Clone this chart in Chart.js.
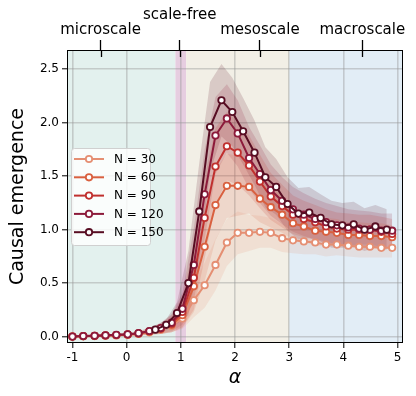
<!DOCTYPE html>
<html>
<head>
<meta charset="utf-8">
<script src="https://cdn.jsdelivr.net/npm/chart.js@4.4.1/dist/chart.umd.min.js"></script>
<style>
  html, body { margin: 0; padding: 0; background: #fff; }
  #wrap { width: 416px; height: 396px; }
</style>
</head>
<body>
<div id="wrap"><canvas id="chart" width="416" height="396"></canvas></div>
<script>
/* ===== DATA ===== */

// alpha grid (N = 30 ... 120)
const alphaGrid = [-1.00, -0.80, -0.59, -0.39, -0.19, 0.02, 0.22, 0.42, 0.63, 0.83,
  1.03, 1.24, 1.44, 1.64, 1.85, 2.05, 2.26, 2.46, 2.66, 2.87,
  3.07, 3.27, 3.48, 3.68, 3.88, 4.09, 4.29, 4.49, 4.70, 4.90];
// N = 150 was sampled half a step off
const alpha150 = [0.53, 0.73, 0.93, 1.14, 1.34, 1.54, 1.75, 1.95, 2.15, 2.36, 2.56,
  2.76, 2.97, 3.17, 3.37, 3.58, 3.78, 3.98, 4.19, 4.39, 4.59, 4.80];

const ce30 = [0.00, 0.003, 0.005, 0.008, 0.011, 0.016, 0.025, 0.04, 0.065, 0.10,
  0.17, 0.34, 0.48, 0.67, 0.88, 0.97, 0.97, 0.98, 0.97, 0.92,
  0.90, 0.89, 0.88, 0.86, 0.86, 0.85, 0.84, 0.84, 0.83, 0.83];
const ce60 = [0.00, 0.004, 0.006, 0.010, 0.013, 0.018, 0.028, 0.045, 0.07, 0.11,
  0.20, 0.47, 0.84, 1.23, 1.41, 1.41, 1.40, 1.29, 1.21, 1.14,
  1.06, 1.03, 0.99, 0.98, 0.97, 0.95, 0.95, 0.94, 0.94, 0.93];
const ce90 = [0.00, 0.005, 0.007, 0.011, 0.015, 0.020, 0.030, 0.050, 0.075, 0.12,
  0.23, 0.55, 1.11, 1.59, 1.78, 1.72, 1.60, 1.45, 1.31, 1.22,
  1.14, 1.10, 1.07, 1.03, 1.01, 1.00, 1.00, 1.00, 0.98, 0.96];
const ce120 = [0.00, 0.005, 0.008, 0.012, 0.016, 0.021, 0.032, 0.052, 0.08, 0.13,
  0.26, 0.67, 1.33, 1.88, 2.04, 1.90, 1.67, 1.52, 1.37, 1.27,
  1.19, 1.14, 1.10, 1.07, 1.04, 1.02, 1.01, 1.00, 0.99, 0.99];
const ce150 = [0.065, 0.11, 0.22, 0.50, 1.17, 1.96, 2.21, 2.10, 1.92, 1.72, 1.49,
  1.40, 1.24, 1.15, 1.16, 1.11, 1.05, 1.04, 1.05, 1.00, 1.03, 1.00];

// spread (std) round each curve
const sd30 = [0.00, 0.002, 0.003, 0.005, 0.007, 0.010, 0.015, 0.025, 0.04, 0.06,
  0.10, 0.16, 0.21, 0.24, 0.22, 0.20, 0.17, 0.15, 0.14, 0.13,
  0.12, 0.12, 0.11, 0.11, 0.10, 0.10, 0.10, 0.10, 0.09, 0.09];
const sd60 = [0.00, 0.002, 0.003, 0.005, 0.007, 0.010, 0.016, 0.027, 0.045, 0.07,
  0.12, 0.24, 0.32, 0.33, 0.30, 0.28, 0.25, 0.22, 0.19, 0.17,
  0.15, 0.14, 0.14, 0.13, 0.13, 0.12, 0.12, 0.12, 0.12, 0.11];
const sd90 = [0.00, 0.002, 0.003, 0.005, 0.007, 0.010, 0.017, 0.030, 0.05, 0.08,
  0.14, 0.30, 0.38, 0.36, 0.32, 0.30, 0.28, 0.25, 0.22, 0.20,
  0.18, 0.17, 0.16, 0.16, 0.15, 0.15, 0.14, 0.14, 0.14, 0.14];
const sd120 = [0.00, 0.002, 0.003, 0.005, 0.007, 0.010, 0.018, 0.030, 0.05, 0.08,
  0.15, 0.34, 0.42, 0.36, 0.32, 0.31, 0.29, 0.27, 0.24, 0.22,
  0.21, 0.20, 0.19, 0.18, 0.18, 0.17, 0.17, 0.17, 0.16, 0.16];
const sd150 = [0.03, 0.05, 0.10, 0.30, 0.45, 0.42, 0.34, 0.32, 0.31, 0.30, 0.28,
  0.26, 0.25, 0.24, 0.24, 0.22, 0.22, 0.21, 0.21, 0.20, 0.20, 0.19];

const seriesLabels = ["N = 30", "N = 60", "N = 90", "N = 120", "N = 150"];

// regimes along alpha
const regionEdges = [-1.1, 0.9, 1.1, 3.0, 5.1];
const regionTickPos = [-0.48, 0.98, 2.46, 4.35];
const regionNames = ["microscale", "scale-free", "mesoscale", "macroscale"];

const xTicks = [-1, 0, 1, 2, 3, 4, 5];
const yTicks = [0, 0.5, 1.0, 1.5, 2.0, 2.5];

/* ===== STYLE ===== */

const seriesColors = ["#e58f73", "#d9603f", "#c0302e", "#8c1a3a", "#570d22"];
const regionColors = ["#e3f1ee", "#e6cde0", "#f2efe6", "#e2edf6"];
const gridColor = "rgba(150,150,150,0.42)";
const FONT = "'DejaVu Sans', sans-serif";

function hexToRgba(hex, a) {
  const n = parseInt(hex.slice(1), 16);
  return `rgba(${(n >> 16) & 255},${(n >> 8) & 255},${n & 255},${a})`;
}

/* ===== DATASETS ===== */

const series = [
  { x: alphaGrid, y: ce30, sd: sd30 },
  { x: alphaGrid, y: ce60, sd: sd60 },
  { x: alphaGrid, y: ce90, sd: sd90 },
  { x: alphaGrid, y: ce120, sd: sd120 },
  { x: alpha150, y: ce150, sd: sd150 }
];

const datasets = [];

// bands first (lower, then upper filled to lower)
series.forEach((s, i) => {
  const col = seriesColors[i];
  datasets.push({
    label: "_band_lo",
    data: s.x.map((a, k) => ({ x: a, y: s.y[k] - s.sd[k] })),
    borderWidth: 0, pointRadius: 0, fill: false, order: 20
  });
  datasets.push({
    label: "_band_hi",
    data: s.x.map((a, k) => ({ x: a, y: s.y[k] + s.sd[k] })),
    borderWidth: 0, pointRadius: 0,
    fill: "-1", backgroundColor: hexToRgba(col, 0.16), order: 20
  });
});

series.forEach((s, i) => {
  const col = seriesColors[i];
  datasets.push({
    label: seriesLabels[i],
    data: s.x.map((a, k) => ({ x: a, y: s.y[k] })),
    borderColor: col,
    borderWidth: 2,
    pointRadius: 3.2,
    pointBorderWidth: 1.8,
    pointBackgroundColor: "#fff",
    pointBorderColor: col,
    fill: false,
    tension: 0,
    order: 5 - i
  });
});

/* ===== PLUGINS ===== */

const regionsPlugin = {
  id: "regions",
  beforeDraw(chart) {
    const { ctx, chartArea: a, scales } = chart;
    ctx.save();
    ctx.beginPath();
    ctx.rect(a.left, a.top, a.right - a.left, a.bottom - a.top);
    ctx.clip();
    for (let i = 0; i < regionColors.length; i++) {
      const x0 = scales.x.getPixelForValue(regionEdges[i]);
      const x1 = scales.x.getPixelForValue(regionEdges[i + 1]);
      ctx.fillStyle = regionColors[i];
      ctx.fillRect(x0, a.top, x1 - x0, a.bottom - a.top);
    }
    ctx.restore();
  }
};

const frameLegendPlugin = {
  id: "frameLegend",
  afterDraw(chart) {
    const { ctx, chartArea: a, scales } = chart;
    ctx.save();

    // frame
    ctx.strokeStyle = "#000";
    ctx.lineWidth = 1;
    ctx.strokeRect(a.left + 0.5, a.top + 0.5, a.right - a.left - 1, a.bottom - a.top - 1);

    // top ticks poke into the axes a little
    ctx.lineWidth = 1.3;
    regionTickPos.forEach(v => {
      const px = Math.round(scales.xTop.getPixelForValue(v)) + 0.5;
      ctx.beginPath();
      ctx.moveTo(px, a.top);
      ctx.lineTo(px, a.top + 7);
      ctx.stroke();
    });

    // legend box
    const bx = a.left + 4, by = a.top + 98, bw = 79, bh = 97;
    ctx.fillStyle = "rgba(255,255,255,0.82)";
    ctx.strokeStyle = "#d0d0d0";
    ctx.lineWidth = 1;
    ctx.beginPath();
    ctx.roundRect(bx + 0.5, by + 0.5, bw, bh, 3);
    ctx.fill();
    ctx.stroke();

    ctx.font = `12px ${FONT}`;
    ctx.textBaseline = "middle";
    seriesLabels.forEach((lab, i) => {
      const y = by + 11 + i * 18.3;
      const col = seriesColors[i];
      ctx.strokeStyle = col;
      ctx.lineWidth = 2;
      ctx.beginPath();
      ctx.moveTo(bx + 3, y);
      ctx.lineTo(bx + 33, y);
      ctx.stroke();
      ctx.beginPath();
      ctx.arc(bx + 18, y, 3.2, 0, Math.PI * 2);
      ctx.fillStyle = "#fff";
      ctx.fill();
      ctx.lineWidth = 1.8;
      ctx.stroke();
      ctx.fillStyle = "#000";
      ctx.fillText(lab, bx + 43, y + 0.5);
    });
    ctx.restore();
  }
};

/* ===== CHART ===== */

const tickFont = { family: FONT, size: 12 };

new Chart(document.getElementById("chart"), {
  type: "line",
  data: { datasets },
  options: {
    responsive: false,
    animation: false,
    devicePixelRatio: 1,
    layout: { padding: { left: 0, right: 13, top: 0, bottom: 0 } },
    plugins: {
      legend: { display: false },
      tooltip: { enabled: false },
      filler: { propagate: false }
    },
    scales: {
      x: {
        type: "linear",
        position: "bottom",
        min: -1.1,
        max: 5.1,
        afterBuildTicks: s => { s.ticks = xTicks.map(v => ({ value: v })); },
        afterFit: s => { s.height = 53; },
        ticks: {
          font: tickFont, color: "#000", padding: 3,
          callback: v => String(v)
        },
        grid: { color: gridColor, lineWidth: 1.6, tickLength: 5, tickColor: "#000", tickWidth: 1 },
        border: { display: false },
        title: {
          display: true, text: "α", color: "#000",
          font: { family: FONT, size: 19, style: "italic" },
          padding: { top: 0, bottom: 7 }
        }
      },
      xTop: {
        type: "linear",
        position: "top",
        min: -1.1,
        max: 5.1,
        afterBuildTicks: s => { s.ticks = regionTickPos.map(v => ({ value: v })); },
        afterFit: s => { s.height = 50; },
        ticks: {
          font: { family: FONT, size: 15, lineHeight: 1.0 }, color: "#000", padding: 2,
          maxRotation: 0, autoSkip: false,
          callback: (v, i) => (regionNames[i] === "scale-free" ? [regionNames[i], ""] : regionNames[i])
        },
        grid: { drawOnChartArea: false, tickLength: 10, tickColor: "#000", tickWidth: 1.3 },
        border: { display: false }
      },
      y: {
        type: "linear",
        min: -0.06,
        max: 2.68,
        afterBuildTicks: s => { s.ticks = yTicks.map(v => ({ value: v })); },
        afterFit: s => { s.width = 67; },
        ticks: {
          font: tickFont, color: "#000", padding: 3,
          callback: v => Number(v).toFixed(1)
        },
        grid: { color: gridColor, lineWidth: 1.6, tickLength: 5, tickColor: "#000", tickWidth: 1 },
        border: { display: false },
        title: {
          display: true, text: "Causal emergence", color: "#000",
          font: { family: FONT, size: 19 },
          padding: { top: 7, bottom: 0 }
        }
      }
    }
  },
  plugins: [regionsPlugin, frameLegendPlugin]
});
</script>
</body>
</html>
